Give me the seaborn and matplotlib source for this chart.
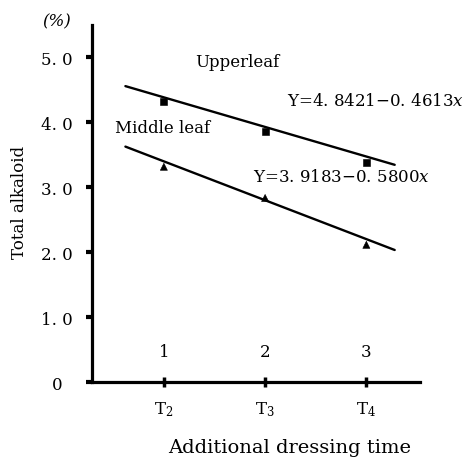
import matplotlib
matplotlib.use("Agg")
import matplotlib.pyplot as plt
import matplotlib.transforms as mtransforms
import seaborn as sns
import pandas as pd

# ---- data ----
periods = [1, 2, 3]
period_labels = [r"$\mathregular{T_2}$", r"$\mathregular{T_3}$", r"$\mathregular{T_4}$"]
upper_values = [4.31, 3.85, 3.38]
middle_values = [3.31, 2.83, 2.11]

# fitted regression lines (end points)
line_x = [0.62, 3.28]
upper_line_y = [4.55, 3.34]
middle_line_y = [3.62, 2.03]

y_ticks = [0, 1.0, 2.0, 3.0, 4.0, 5.0]
y_tick_labels = ["0", "1. 0", "2. 0", "3. 0", "4. 0", "5. 0"]

sns.set_theme(style="white")
plt.rcParams["font.family"] = ["DejaVu Serif"]
plt.rcParams["text.color"] = "black"
plt.rcParams["mathtext.fontset"] = "custom"
plt.rcParams["mathtext.rm"] = "DejaVu Serif"
plt.rcParams["mathtext.it"] = "DejaVu Serif:italic"

fig = plt.figure(figsize=(4.65, 4.62), dpi=100)
ax = fig.add_axes([92 / 465, 80 / 462, 328 / 465, 357 / 462])

pts = pd.DataFrame({
    "x": periods * 2,
    "y": upper_values + middle_values,
    "leaf": ["Upper"] * 3 + ["Middle"] * 3,
})
lines = pd.DataFrame({
    "x": line_x * 2,
    "y": upper_line_y + middle_line_y,
    "leaf": ["Upper"] * 2 + ["Middle"] * 2,
})

sns.lineplot(data=lines, x="x", y="y", units="leaf", estimator=None,
             color="black", linewidth=1.7, ax=ax, legend=False)
sns.scatterplot(data=pts, x="x", y="y", style="leaf",
                markers={"Upper": "s", "Middle": "^"},
                color="black", s=26, edgecolor="black", ax=ax, legend=False)

ax.set_xlim(0.29, 3.53)
ax.set_ylim(0, 5.49)

for s in ["top", "right"]:
    ax.spines[s].set_visible(False)
for s in ["left", "bottom"]:
    ax.spines[s].set_linewidth(2.3)
    ax.spines[s].set_color("black")

ax.set_yticks(y_ticks)
ax.set_yticklabels(y_tick_labels, fontsize=12, color="black")
ax.tick_params(axis="y", left=True, direction="out", length=4, width=3, pad=21, colors="black")
shift = mtransforms.ScaledTranslation(0, -4 / 100, fig.dpi_scale_trans)
for lbl in ax.get_yticklabels():
    lbl.set_horizontalalignment("center")
    lbl.set_verticalalignment("center")
    lbl.set_transform(lbl.get_transform() + shift)

ax.set_xticks(periods)
ax.set_xticklabels(period_labels, fontsize=12, color="black")
ax.tick_params(axis="x", bottom=True, direction="inout", length=7, width=2.5, pad=10, colors="black")

ax.set_xlabel("")
ax.set_ylabel("")

for p in periods:
    ax.text(p, 0.45, str(p), ha="center", va="center", fontsize=12)

ax.text(1.73, 4.92, "Upperleaf", ha="center", va="center", fontsize=12)
ax.text(2.22, 4.31, "Y=4. 8421−0. 4613$\\it{x}$", ha="left", va="center", fontsize=12)
ax.text(0.515, 3.9, "Middle leaf", ha="left", va="center", fontsize=12)
ax.text(1.88, 3.15, "Y=3. 9183−0. 5800$\\it{x}$", ha="left", va="center", fontsize=12)

fig.text(57 / 465, 1 - 22 / 462, "(%)", ha="center", va="center", fontsize=12, style="italic")
fig.text(20 / 465, 1 - 202 / 462, "Total alkaloid", ha="center", va="center",
         rotation=90, fontsize=12)
fig.text(290 / 465, 1 - 448 / 462, "Additional dressing time", ha="center", va="center",
         fontsize=14)

fig.savefig("out.png", dpi=100, facecolor="white")
